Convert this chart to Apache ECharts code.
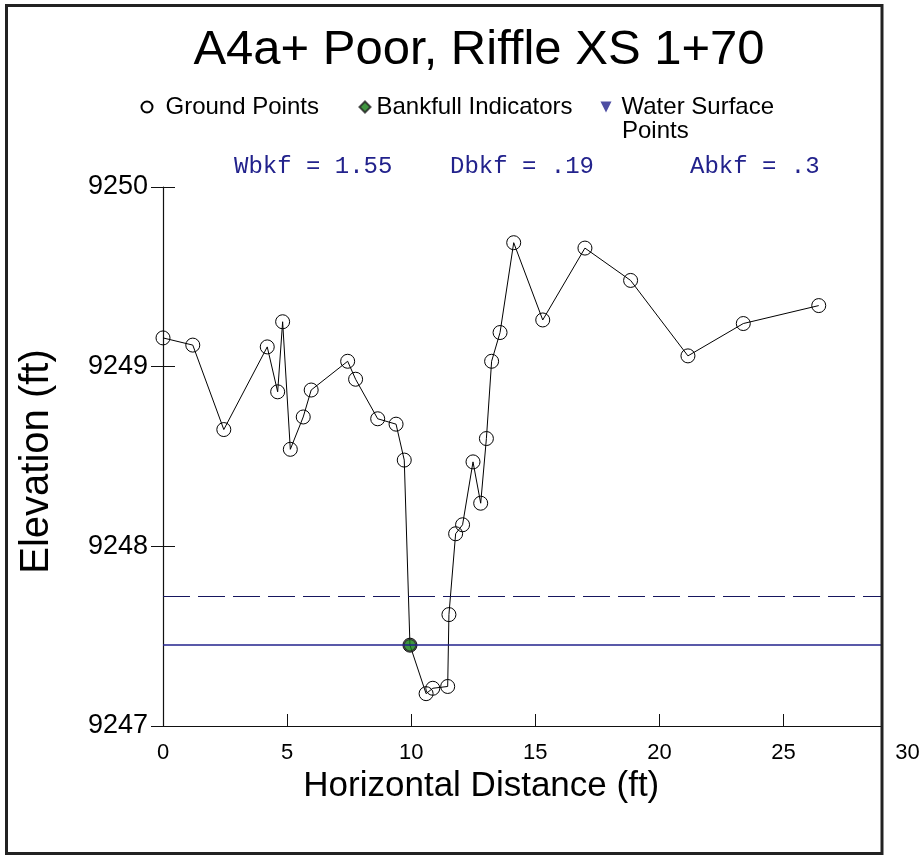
<!DOCTYPE html>
<html>
<head>
<meta charset="utf-8">
<script src="https://cdn.jsdelivr.net/npm/echarts@6/dist/echarts.min.js"></script>
<style>html,body{margin:0;padding:0;background:#fff;}#chart{width:924px;height:856px;}</style>
</head>
<body>
<div id="chart"></div>
<script>
// ---- data ----
const titleText = 'A4a+ Poor, Riffle XS 1+70';
const distance = [0.00, 1.20, 2.45, 4.20, 4.62, 4.82, 5.13, 5.65, 5.97, 7.44, 7.76, 8.65, 9.39, 9.72, 9.95, 10.60, 10.87, 11.47, 11.52, 11.79, 12.07, 12.49, 12.80, 13.03, 13.24, 13.58, 14.13, 15.30, 17.00, 18.84, 21.15, 23.38, 26.42];
const elevation = [9249.16, 9249.12, 9248.65, 9249.11, 9248.86, 9249.25, 9248.54, 9248.72, 9248.87, 9249.03, 9248.93, 9248.71, 9248.68, 9248.48, 9247.45, 9247.18, 9247.21, 9247.22, 9247.62, 9248.07, 9248.12, 9248.47, 9248.24, 9248.60, 9249.03, 9249.19, 9249.69, 9249.26, 9249.66, 9249.48, 9249.06, 9249.24, 9249.34];
const bankfullX = [9.95];
const bankfullY = [9247.45];
const waterSurfaceLevel = 9247.45;
const dashedLevel = 9247.72;
const statLabels = ['Wbkf = 1.55', 'Dbkf = .19', 'Abkf = .3'];
const xTicks = [0, 5, 10, 15, 20, 25, 30];
const yTicks = [9247, 9248, 9249, 9250];

const groundData = distance.map((d, i) => [d, elevation[i]]);
const bankfullData = bankfullX.map((d, i) => [d, bankfullY[i]]);

const NAVY = '#22228c';
const NAVY_DARK = '#16165e';
const FONT = 'Liberation Sans, Arial, sans-serif';
const MONO = '24px Liberation Mono, Courier New, monospace';

const chart = echarts.init(document.getElementById('chart'), null, {renderer: 'canvas'});
const legendText = {fontFamily: FONT, fontSize: 24, color: '#000'};
const option = {
  backgroundColor: '#fff',
  animation: false,
  title: {
    text: titleText,
    left: 474, top: 21, textAlign: 'center',
    textStyle: {fontFamily: FONT, fontSize: 49, fontWeight: 'normal', color: '#000'}
  },
  legend: [
    {data: [{name: 'Ground Points', icon: 'circle'}], left: 140.5, top: 95, padding: 0, itemWidth: 11, itemHeight: 11,
     textStyle: Object.assign({padding: [0,0,0,8]}, legendText)},
    {data: [{name: 'Bankfull Indicators', icon: 'diamond'}], left: 358.5, top: 95, padding: 0, itemWidth: 11, itemHeight: 11,
     textStyle: Object.assign({padding: [0,0,0,1]}, legendText)},
    {data: [{name: 'Water Surface Points', icon: 'path://M0,0L10,0L5,10Z'}], left: 600.5, top: 95, padding: 0, itemWidth: 11, itemHeight: 11,
     formatter: () => 'Water Surface',
     textStyle: Object.assign({padding: [0,0,0,5]}, legendText)}
  ],
  grid: {left: 163, top: 187, right: 16.4, bottom: 130, containLabel: false},
  xAxis: {
    type: 'value', min: xTicks[0], max: xTicks[xTicks.length - 1], interval: 5,
    name: 'Horizontal Distance (ft)', nameLocation: 'middle', nameGap: 36,
    nameTextStyle: {fontFamily: FONT, fontSize: 35, color: '#000', padding: [0, 108, 0, 0]},
    axisLine: {show: true, onZero: false, lineStyle: {color: '#111', width: 1.2}},
    axisTick: {show: true, inside: true, length: 12, lineStyle: {color: '#111'}},
    axisLabel: {fontFamily: FONT, fontSize: 22, color: '#000', margin: 16},
    splitLine: {show: false}
  },
  yAxis: [{
    type: 'value', min: yTicks[0], max: yTicks[yTicks.length - 1], interval: 1,
    name: 'Elevation (ft)', nameLocation: 'middle', nameGap: 106,
    nameTextStyle: {fontFamily: FONT, fontSize: 40, color: '#000', padding: [0, 10, 0, 0]},
    axisLine: {show: true, onZero: false, lineStyle: {color: '#111', width: 1.2}},
    axisTick: {show: true, inside: false, length: 12, lineStyle: {color: '#111'}},
    axisLabel: {fontFamily: FONT, fontSize: 27, color: '#000', margin: 15, formatter: v => String(v)},
    splitLine: {show: false}
  }, {
    type: 'value', min: yTicks[0], max: yTicks[yTicks.length - 1], interval: 1, position: 'left',
    axisLine: {show: false},
    axisTick: {show: true, inside: true, length: 12, lineStyle: {color: '#111'}},
    axisLabel: {show: false},
    splitLine: {show: false}
  }],
  series: [
    {
      name: 'Ground Points', type: 'line', data: groundData,
      symbol: 'circle', symbolSize: 14,
      itemStyle: {color: 'rgba(255,255,255,0)', borderColor: '#000', borderWidth: 1},
      lineStyle: {color: '#000', width: 1},
      z: 3,
      markLine: {
        silent: true, symbol: 'none', label: {show: false},
        data: [
          {yAxis: waterSurfaceLevel, lineStyle: {color: NAVY, width: 1.5, type: 'solid'}},
          {yAxis: dashedLevel, lineStyle: {color: NAVY_DARK, width: 1.2, type: [27, 8]}}
        ]
      }
    },
    {
      name: 'Bankfull Indicators', type: 'scatter', data: bankfullData,
      symbol: 'circle', symbolSize: 12,
      itemStyle: {color: '#0f7a0f', borderColor: '#222', borderWidth: 1.5},
      z: 4
    },
    {
      name: 'Water Surface Points', type: 'scatter', data: [],
      symbol: 'triangle', itemStyle: {color: NAVY}
    }
  ],
  graphic: [
    {type: 'rect', z: 100, shape: {x: 883, y: 0, width: 41, height: 738}, style: {fill: '#fff'}},
    {type: 'text', z: 101, left: 622, top: 119, style: {text: 'Points', font: '24px ' + FONT, fill: '#000'}},
    {type: 'text', z: 101, left: 234, top: 155, style: {text: statLabels[0], font: MONO, fill: NAVY}},
    {type: 'text', z: 101, left: 450, top: 155, style: {text: statLabels[1], font: MONO, fill: NAVY}},
    {type: 'text', z: 101, left: 690, top: 155, style: {text: statLabels[2], font: MONO, fill: NAVY}},
    {type: 'rect', z: 102, shape: {x: 6.5, y: 5.5, width: 875.5, height: 848}, style: {fill: 'none', stroke: '#222', lineWidth: 3}}
  ]
};
chart.setOption(option);
</script>
</body>
</html>
